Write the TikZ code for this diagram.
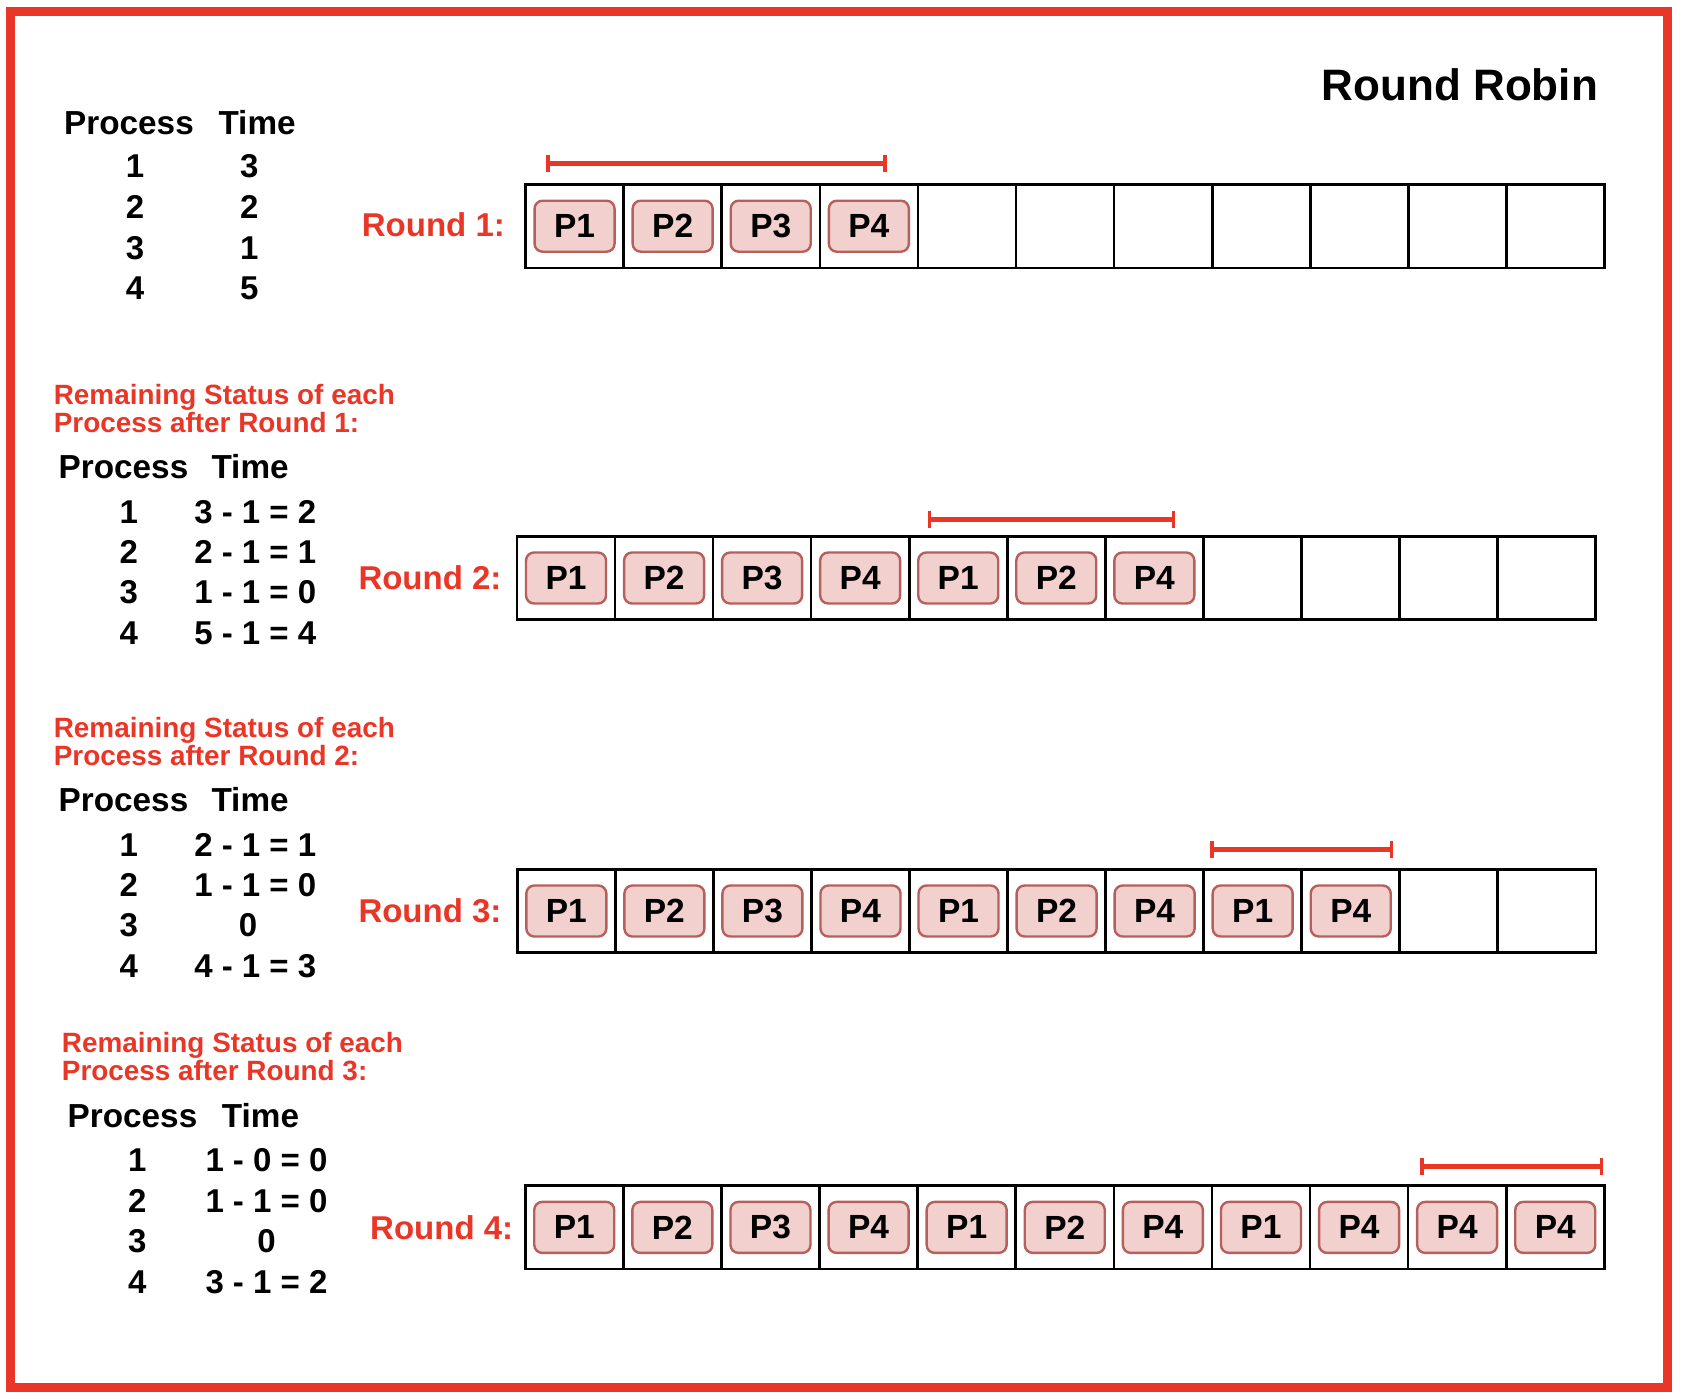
\documentclass[tikz,border=0pt]{standalone}
\usepackage{fontspec}
\setmainfont{Liberation Sans}
\definecolor{rrred}{RGB}{234,54,39}
\definecolor{pfill}{HTML}{F2D0CE}
\definecolor{pdraw}{HTML}{B5605B}
\tikzset{
 cellbox/.style={draw=black, line width=2.6pt, minimum width=98.1pt, minimum height=83.5pt, inner sep=0pt, outer sep=0pt},
 pbox/.style={draw=pdraw, fill=pfill, line width=2.4pt, rounded corners=8pt, minimum width=80pt, minimum height=51pt, inner sep=0pt, font=\fontsize{33.5}{33.5}\selectfont\bfseries},
 tabtxt/.style={inner sep=0pt, anchor=base, font=\fontsize{33}{33}\selectfont\bfseries},
 hdrtxt/.style={inner sep=0pt, anchor=base west, font=\fontsize{33.3}{33.3}\selectfont\bfseries},
 roundlbl/.style={inner sep=0pt, anchor=base west, text=rrred, font=\fontsize{33}{33}\selectfont\bfseries},
 redhead/.style={inner sep=0pt, anchor=base west, text=rrred, font=\fontsize{27.9}{27.9}\selectfont\bfseries},
 titletxt/.style={inner sep=0pt, anchor=base west, font=\fontsize{44}{44}\selectfont\bfseries},
 quantum/.style={draw=rrred, line width=5pt},
 quantumtick/.style={draw=rrred, line width=3.5pt},
 frame/.style={draw=rrred, line width=9pt},
}
\begin{document}
\begin{tikzpicture}[x=1pt,y=-1pt]
\useasboundingbox (0,0) rectangle (1682,1400);
\draw[frame] (10,11) rectangle (1667,1387);

% title
\node[titletxt] (title) at (1321.6,100) {Round Robin};

% ---------- section 1 ----------
\node[hdrtxt] (h1p) at (64,134) {Process};
\node[hdrtxt] (h1t) at (218.3,134) {Time};
\node[tabtxt] (t1a1) at (135,177.3) {1};
\node[tabtxt] (t1b1) at (249.3,177.3) {3};
\node[tabtxt] (t1a2) at (135,218.3) {2};
\node[tabtxt] (t1b2) at (249.3,218.3) {2};
\node[tabtxt] (t1a3) at (135,259) {3};
\node[tabtxt] (t1b3) at (249.3,259) {1};
\node[tabtxt] (t1a4) at (135,299.3) {4};
\node[tabtxt] (t1b4) at (249.3,299.3) {5};
\node[roundlbl] (rl1) at (361.7,236.7) {Round 1:};

% ---------- section 2 ----------
\node[redhead] (s2a) at (53.6,404.8) {Remaining Status of each};
\node[redhead] (s2b) at (53.6,432.6) {Process after Round 1:};
\node[hdrtxt] (h2p) at (58.5,478.3) {Process};
\node[hdrtxt] (h2t) at (211.3,478.3) {Time};
\node[tabtxt] (t2a1) at (128.7,523.4) {1};
\node[tabtxt] (t2b1) at (255.3,523.4) {3 - 1 = 2};
\node[tabtxt] (t2a2) at (128.7,563) {2};
\node[tabtxt] (t2b2) at (255.3,563) {2 - 1 = 1};
\node[tabtxt] (t2a3) at (128.7,603.8) {3};
\node[tabtxt] (t2b3) at (255.3,603.8) {1 - 1 = 0};
\node[tabtxt] (t2a4) at (128.7,644.6) {4};
\node[tabtxt] (t2b4) at (255.3,644.6) {5 - 1 = 4};
\node[roundlbl] (rl2) at (358.3,589.5) {Round 2:};

% ---------- section 3 ----------
\node[redhead] (s3a) at (53.6,737.3) {Remaining Status of each};
\node[redhead] (s3b) at (53.6,765.2) {Process after Round 2:};
\node[hdrtxt] (h3p) at (58.5,811) {Process};
\node[hdrtxt] (h3t) at (211.3,811) {Time};
\node[tabtxt] (t3a1) at (128.7,856) {1};
\node[tabtxt] (t3b1) at (255.3,856) {2 - 1 = 1};
\node[tabtxt] (t3a2) at (128.7,896.7) {2};
\node[tabtxt] (t3b2) at (255.3,896.7) {1 - 1 = 0};
\node[tabtxt] (t3a3) at (128.7,936.4) {3};
\node[tabtxt] (t3b3) at (248,936.4) {0};
\node[tabtxt] (t3a4) at (128.7,977) {4};
\node[tabtxt] (t3b4) at (255.3,977) {4 - 1 = 3};
\node[roundlbl] (rl3) at (358.3,922) {Round 3:};

% ---------- section 4 ----------
\node[redhead] (s4a) at (61.7,1052.7) {Remaining Status of each};
\node[redhead] (s4b) at (61.7,1080.7) {Process after Round 3:};
\node[hdrtxt] (h4p) at (67.5,1127.3) {Process};
\node[hdrtxt] (h4t) at (221.7,1127.3) {Time};
\node[tabtxt] (t4a1) at (137.3,1171.7) {1};
\node[tabtxt] (t4b1) at (266.5,1171.7) {1 - 0 = 0};
\node[tabtxt] (t4a2) at (137.3,1212.7) {2};
\node[tabtxt] (t4b2) at (266.5,1212.7) {1 - 1 = 0};
\node[tabtxt] (t4a3) at (137.3,1252.7) {3};
\node[tabtxt] (t4b3) at (266.5,1252.7) {0};
\node[tabtxt] (t4a4) at (137.3,1293.3) {4};
\node[tabtxt] (t4b4) at (266.5,1293.3) {3 - 1 = 2};
\node[roundlbl] (rl4) at (370,1239.3) {Round 4:};

% ---------- rows of cells ----------
\foreach \i in {1,...,11} {
  \node[cellbox] (ca\i) at ({525.5+(\i-0.5)*98.1},226.2) {};
  \node[cellbox] (cb\i) at ({517+(\i-0.5)*98.05},578) {};
  \node[cellbox] (cc\i) at ({517.3+(\i-0.5)*98.05},911) {};
  \node[cellbox] (cd\i) at ({525.2+(\i-0.5)*98.1},1227.4) {};
}

% ---------- process boxes ----------
\foreach \i/\p in {1/P1,2/P2,3/P3,4/P4}
  \node[pbox] (pa\i) at (ca\i) {\p};
\foreach \i/\p in {1/P1,2/P2,3/P3,4/P4,5/P1,6/P2,7/P4}
  \node[pbox] (pb\i) at (cb\i) {\p};
\foreach \i/\p in {1/P1,2/P2,3/P3,4/P4,5/P1,6/P2,7/P4,8/P1,9/P4}
  \node[pbox] (pc\i) at (cc\i) {\p};
\foreach \i/\p in {1/P1,2/P2,3/P3,4/P4,5/P1,6/P2,7/P4,8/P1,9/P4,10/P4,11/P4}
  \node[pbox] (pd\i) at (cd\i) {\p};

% ---------- time-quantum brackets ----------
\coordinate (qa1) at (548,163);    \coordinate (qa2) at (885,163);
\coordinate (qb1) at (929.3,519.3); \coordinate (qb2) at (1173.3,519.3);
\coordinate (qc1) at (1212,849.3);  \coordinate (qc2) at (1391.7,849.3);
\coordinate (qd1) at (1422,1166);   \coordinate (qd2) at (1601.7,1166);
\foreach \q in {qa,qb,qc,qd} {
  \draw[quantum] (\q1) -- (\q2);
  \draw[quantumtick] ([yshift=8.5pt]\q1) -- ([yshift=-8.5pt]\q1);
  \draw[quantumtick] ([yshift=8.5pt]\q2) -- ([yshift=-8.5pt]\q2);
}
\end{tikzpicture}
\end{document}
